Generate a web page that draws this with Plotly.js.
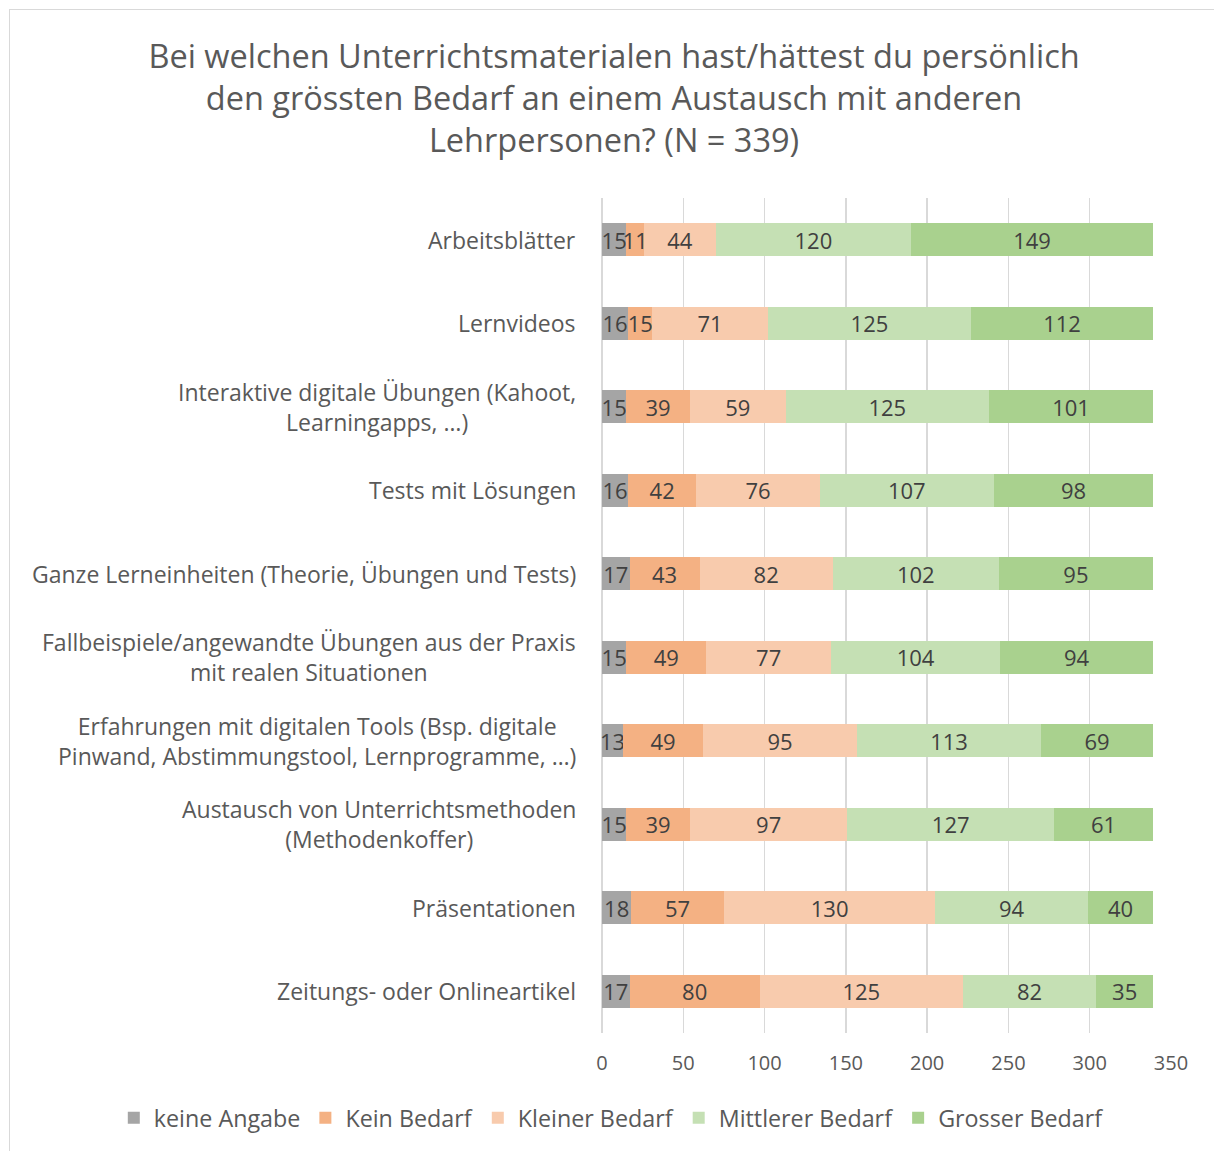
<!DOCTYPE html>
<html><head><meta charset="utf-8">
<script src="https://cdn.plot.ly/plotly-3.0.1.min.js"></script>
<style>
html,body{margin:0;padding:0;background:#fff;overflow:hidden}
#frame{position:absolute;left:9px;top:9px;width:1220px;height:1160px;border:1px solid #d9d9d9;box-sizing:border-box;pointer-events:none;z-index:5}
#chart{width:1214px;height:1151px}
</style></head>
<body>
<div id="frame"></div>
<div id="chart"></div>
<script>
const categories = [
  "Arbeitsblätter",
  "Lernvideos",
  "Interaktive digitale Übungen (Kahoot,<br>Learningapps, …)",
  "Tests mit Lösungen",
  "Ganze Lerneinheiten (Theorie, Übungen und Tests)",
  "Fallbeispiele/angewandte Übungen aus der Praxis<br>mit realen Situationen",
  "Erfahrungen mit digitalen Tools (Bsp. digitale<br>Pinwand, Abstimmungstool, Lernprogramme, …)",
  "Austausch von Unterrichtsmethoden<br>(Methodenkoffer)",
  "Präsentationen",
  "Zeitungs- oder Onlineartikel"
];
const keineAngabe   = [15, 16, 15, 16, 17, 15, 13, 15, 18, 17];
const keinBedarf    = [11, 15, 39, 42, 43, 49, 49, 39, 57, 80];
const kleinerBedarf = [44, 71, 59, 76, 82, 77, 95, 97, 130, 125];
const mittlererBedarf = [120, 125, 125, 107, 102, 104, 113, 127, 94, 82];
const grosserBedarf = [149, 112, 101, 98, 95, 94, 69, 61, 40, 35];
const seriesNames = ["keine Angabe", "Kein Bedarf", "Kleiner Bedarf", "Mittlerer Bedarf", "Grosser Bedarf"];
const seriesValues = [keineAngabe, keinBedarf, kleinerBedarf, mittlererBedarf, grosserBedarf];
const colors = ["#a5a5a5", "#f4b183", "#f8cbad", "#c5e0b4", "#a9d18e"];
const xTicks = [0, 50, 100, 150, 200, 250, 300, 350];

const font = "Open Sans, Lato, sans-serif";
const traces = seriesValues.map((vals, i) => ({
  type: "bar",
  orientation: "h",
  name: seriesNames[i],
  y: categories,
  x: vals,
  text: vals.map(String),
  textposition: "inside",
  insidetextanchor: "middle",
  textangle: 0,
  constraintext: "none",
  cliponaxis: false,
  textfont: {family: font, size: 22, color: "#404040"},
  marker: {color: colors[i], line: {width: 0}},
  hoverinfo: "none"
}));

const annotations = categories.map(c => ({
  xref: "paper", yref: "y", x: 0, y: c,
  xanchor: "right", yanchor: "middle", xshift: -24,
  text: c, showarrow: false, align: "center",
  font: {family: font, size: 23, color: "#595959"}
}));

const layout = {
  width: 1214, height: 1151,
  paper_bgcolor: "#ffffff", plot_bgcolor: "#ffffff",
  margin: {l: 602, r: 43, t: 198, b: 118, autoexpand: false},
  barmode: "stack",
  bargap: 0.6,
  title: {
    text: "Bei welchen Unterrichtsmaterialen hast/hättest du persönlich<br>den grössten Bedarf an einem Austausch mit anderen<br>Lehrpersonen? (N = 339)",
    font: {family: font, size: 32.5, color: "#595959"},
    x: 0.5058, xanchor: "center", yref: "container", y: 0.941, yanchor: "middle"
  },
  xaxis: {
    range: [0, 350], tickvals: xTicks, ticktext: xTicks.map(String),
    showgrid: true, gridcolor: "#d9d9d9", gridwidth: 1.5,
    zeroline: true, zerolinecolor: "#d9d9d9", zerolinewidth: 1.5,
    showline: false, ticks: "", ticklen: 0, ticklabelstandoff: 16,
    tickfont: {family: font, size: 20, color: "#595959"},
    fixedrange: true
  },
  yaxis: {
    categoryorder: "array", categoryarray: categories,
    autorange: "reversed",
    showticklabels: false, showgrid: false, zeroline: false, ticks: "",
    fixedrange: true
  },
  uniformtext: {mode: "show", minsize: 22},
  annotations: annotations,
  showlegend: true,
  legend: {
    orientation: "h", xref: "paper", x: -0.858, xanchor: "left",
    yref: "paper", y: -0.102, yanchor: "middle",
    font: {family: font, size: 23.3, color: "#595959"},
    traceorder: "normal",
    bgcolor: "rgba(0,0,0,0)"
  }
};

Plotly.newPlot("chart", traces, layout, {staticPlot: true, displayModeBar: false});
</script>
</body></html>
